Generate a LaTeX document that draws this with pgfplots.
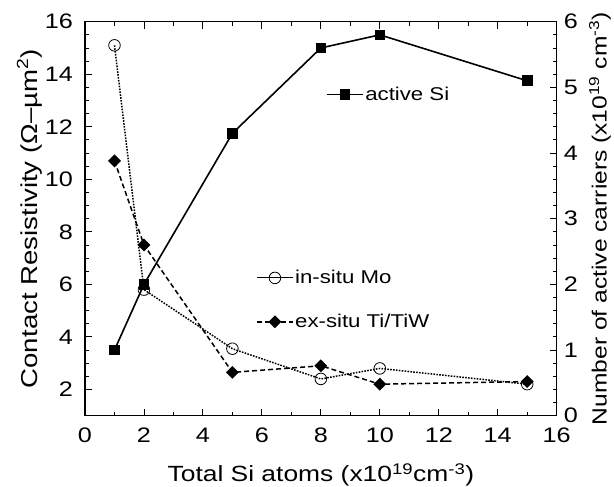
\documentclass[border=0pt]{standalone}
\usepackage{pgfplots}
\pgfplotsset{compat=1.18}
\usetikzlibrary{calc}
\usepackage{fontspec}
\setmainfont[FakeStretch=1.2]{Liberation Sans}
\newcommand{\tickfont}{\fontsize{21}{24}\selectfont}
\newcommand{\labfont}{\fontsize{22}{24}\selectfont}
\newcommand{\ylabfont}{\fontsize{23}{24}\selectfont}
\newcommand{\rlabfont}{\fontsize{20.5}{24}\selectfont}
\newcommand{\legfont}{\fontsize{18.5}{20}\selectfont}

\pgfplotsset{
  every axis/.append style={
    scale only axis,
    width=471.7pt, height=394pt,
    xmin=0, xmax=16,
    tick align=inside,
    major tick length=7pt,
    minor tick length=4pt,
    every tick/.style={line width=0.9pt, black},
    axis line style={line width=1.1pt},
    tick label style={font=\tickfont},
    /pgf/number format/assume math mode=true,
  },
  mylegimg/.style={
    legend image code/.code={
      \draw[mark repeat=2, mark phase=2, ##1]
        plot coordinates {(0pt,0pt) (18pt,0pt) (36pt,0pt)};
    }
  },
}

\begin{document}
\begin{tikzpicture}
\begin{axis}[
    name=ax,
    ymin=1, ymax=16,
    xtick={0,2,...,16},
    minor x tick num=1,
    ytick={2,4,...,16},
    minor y tick num=3,
    ytick pos=left,
    xtick pos=both,
    xticklabel pos=bottom,
    yticklabel style={anchor=east, inner sep=0pt, xshift=-12pt},
    xticklabel style={anchor=north, inner sep=0pt, yshift=-12pt},
    xlabel={Total Si atoms (x10\textsuperscript{19}cm\textsuperscript{-3})},
    ylabel={Contact Resistivity (Ω–µm\textsuperscript{2})},
    xlabel style={font=\labfont, at={(axis description cs:0.5,-0.15)}, anchor=center},
    ylabel style={font=\ylabfont, at={(axis description cs:-0.118,0.5)}, anchor=center},
    legend style={draw=none, fill=none, font=\legfont, at={(0.3625,0.294)}, anchor=west,
      row sep=26pt, inner sep=0pt, nodes={inner sep=1.5pt}},
    legend cell align=left,
    mylegimg,
]
% in-situ Mo
\addplot[black, line width=1.5pt, dash pattern=on 1.6pt off 1.3pt,
  mark=o, mark size=5.8pt, mark options={solid, line width=0.8pt}, forget plot]
  coordinates {(1,15.1) (2,5.8) (5,3.55) (8,2.4) (10,2.8) (15,2.2)};
% ex-situ Ti/TiW
\addplot[black, line width=1.5pt, dash pattern=on 5pt off 3pt,
  mark=square*, mark size=3.8pt, mark options={solid, rotate=45}, forget plot]
  coordinates {(1,10.7) (2,7.5) (5,2.65) (8,2.9) (10,2.2) (15,2.3)};
\addlegendimage{black, line width=1pt, mark=o, mark size=5.8pt, mark options={line width=0.8pt}}
\addlegendentry{in-situ Mo}
\addlegendimage{black, line width=1.5pt, dash pattern=on 5pt off 3pt,
  mark=square*, mark size=3.8pt, mark options={solid, rotate=45}}
\addlegendentry{ex-situ Ti/TiW}
\end{axis}
\begin{axis}[
    ymin=0, ymax=6,
    axis x line=none,
    axis y line*=right,
    ytick={0,1,...,6},
    minor y tick num=4,
    yticklabel style={anchor=west, inner sep=0pt, xshift=7pt},
    ylabel={Number of active carriers (x10\textsuperscript{19} cm\textsuperscript{-3})},
    ylabel style={font=\rlabfont, at={(axis description cs:1.092,0.5)}, anchor=center},
    legend style={draw=none, fill=none, font=\legfont, at={(0.511,0.815)}, anchor=west,
      inner sep=0pt, nodes={inner sep=1.5pt}},
    mylegimg,
]
\addplot[black, line width=1.6pt, mark=square*, mark size=4.5pt]
  coordinates {(1,1.0) (2,2.0) (5,4.3) (8,5.6) (10,5.8) (15,5.1)};
\addlegendentry{active Si}
\end{axis}
\pgfresetboundingbox
\path[use as bounding box] ($(ax.south west)+(-85pt,-71.3pt)$) rectangle ($(ax.north east)+(57.3pt,21.7pt)$);
\end{tikzpicture}
\end{document}
